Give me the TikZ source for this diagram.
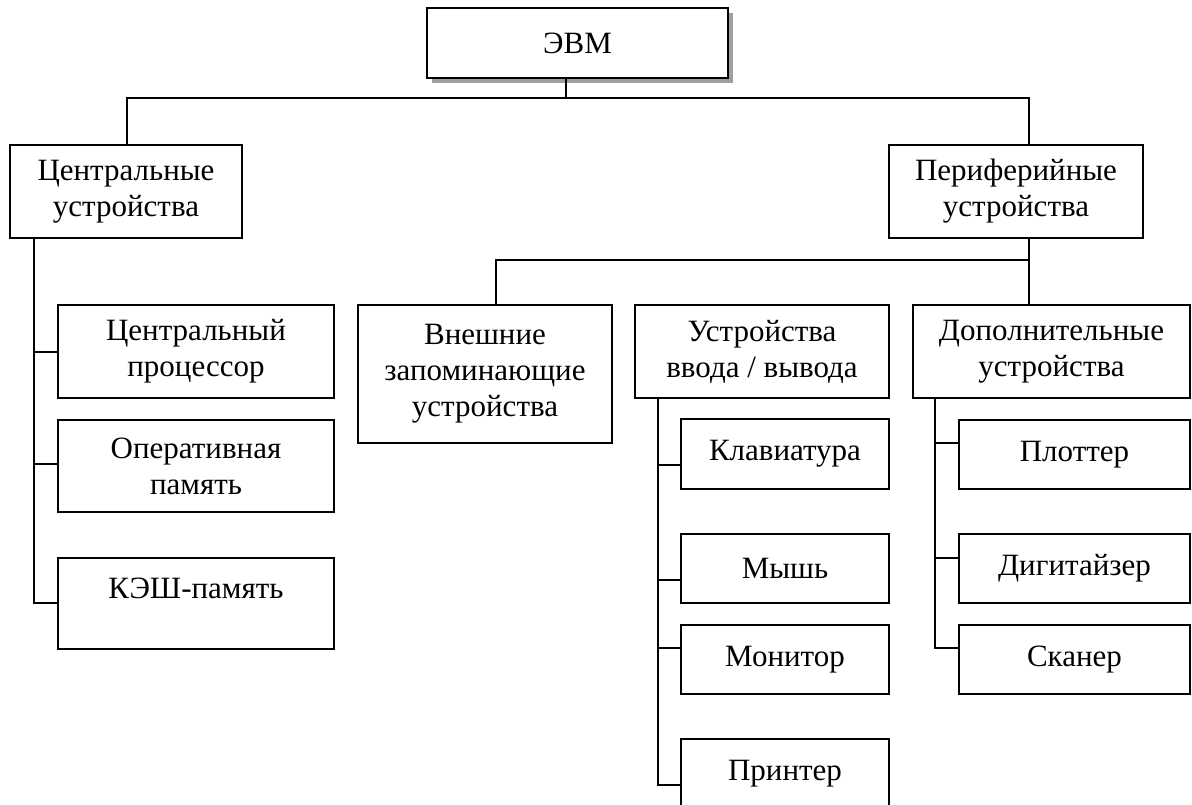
\documentclass[tikz,border=0pt]{standalone}
\usepackage{fontspec}
\setmainfont{Liberation Serif}
\usetikzlibrary{shadows}
\begin{document}
\begin{tikzpicture}[x=1pt,y=-1pt,
  box/.style={draw=black, line width=1.5pt, fill=white, align=center, inner sep=0pt,
    font=\fontsize{31}{36}\selectfont},
  conn/.style={draw=black, line width=1.5pt}]
\useasboundingbox (0,0) rectangle (1192,805);
\fill[white] (0,0) rectangle (1192,805);
% top
\node[box, minimum width=301pt, minimum height=70pt,
  drop shadow={shadow xshift=5pt, shadow yshift=-5pt, fill=gray!75, opacity=1}] (evm) at (577.5,43) {ЭВМ};
\node[box, minimum width=232pt, minimum height=93pt] (cu) at (126,191.5) {Центральные\\устройства};
\node[box, minimum width=254pt, minimum height=93pt] (pu) at (1016,191.5) {Периферийные\\устройства};
% central
\node[box, minimum width=276pt, minimum height=93pt] (cp) at (196,351.5) {Центральный\\процессор};
\node[box, minimum width=276pt, minimum height=92pt] (op) at (196,466) {Оперативная\\память};
\node[box, minimum width=276pt, minimum height=91pt] (kesh) at (196,603.5) {};
\node[font=\fontsize{31}{36}\selectfont, inner sep=0pt] (keshtext) at (196,588) {КЭШ-память};
% peripheral
\node[box, minimum width=254pt, minimum height=138pt] (vzu) at (485,374) {Внешние\\запоминающие\\устройства};
\node[box, minimum width=254pt, minimum height=93pt] (uvv) at (762,351.5) {Устройства\\ввода / вывода};
\node[box, minimum width=277pt, minimum height=93pt] (dop) at (1051.5,351.5) {Дополнительные\\устройства};
% io
\node[box, minimum width=208pt, minimum height=70pt] (klav) at (785,454) {Клавиатура};
\node[box, minimum width=208pt, minimum height=69pt] (mysh) at (785,568.5) {Мышь};
\node[box, minimum width=208pt, minimum height=69pt] (mon) at (785,659.5) {Монитор};
\node[box, minimum width=208pt, minimum height=70pt] (prn) at (785,774) {Принтер};
% extra
\node[box, minimum width=231pt, minimum height=69pt] (plot) at (1074.5,454.5) {Плоттер};
\node[box, minimum width=231pt, minimum height=69pt] (dig) at (1074.5,568.5) {Дигитайзер};
\node[box, minimum width=231pt, minimum height=69pt] (scan) at (1074.5,659.5) {Сканер};
% connectors
\coordinate (j1) at (566,98);
\draw[conn] (evm.south -| j1) -- (j1);
\draw[conn] (cu.north -| 127,0) |- (j1) -| (pu.north -| 1029,0);
\coordinate (j2) at (1029,260);
\draw[conn] (pu.south -| j2) -- (dop.north -| j2);
\draw[conn] (j2) -| (vzu.north -| 496,0);
\draw[conn] (uvv.north -| 751,0) -- (uvv.north -| 751,0 |- j2);
% central branch
\draw[conn] (cu.south -| 34,0) |- (kesh.west |- 0,603);
\draw[conn] (34,352) -- (cp.west |- 0,352);
\draw[conn] (34,464) -- (op.west |- 0,464);
% io branch
\draw[conn] (uvv.south -| 658,0) |- (prn.west |- 0,785);
\draw[conn] (658,465) -- (klav.west |- 0,465);
\draw[conn] (658,580) -- (mysh.west |- 0,580);
\draw[conn] (658,648) -- (mon.west |- 0,648);
% extra branch
\draw[conn] (dop.south -| 935,0) |- (scan.west |- 0,648);
\draw[conn] (935,443) -- (plot.west |- 0,443);
\draw[conn] (935,558) -- (dig.west |- 0,558);
\end{tikzpicture}
\end{document}
